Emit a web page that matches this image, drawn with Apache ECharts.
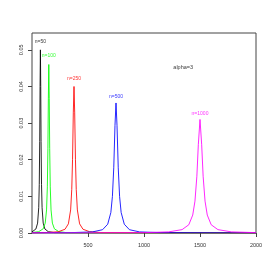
<!DOCTYPE html>
<html>
<head>
<meta charset="utf-8">
<script src="https://cdn.jsdelivr.net/npm/echarts@6/dist/echarts.min.js"></script>
<style>html,body{margin:0;padding:0;background:#fff}#c{width:273px;height:273px}</style>
</head>
<body>
<div id="c"></div>
<script>
// ---- data ----
var blackX = [0, 35, 50, 60, 65, 69, 72, 75, 78, 81, 85, 90, 100, 115, 145, 200, 400, 2000];
var blackY = [0.0003, 0.0011, 0.0027, 0.0069, 0.0132, 0.025, 0.040, 0.050, 0.040, 0.025, 0.0132, 0.0069, 0.0027, 0.0011, 0.00036, 0.0001, 0.00002, 0];

var greenX = [0, 60, 100, 118, 130, 137, 142, 146, 150, 154, 158, 163, 170, 182, 200, 240, 300, 2000];
var greenY = [0.00013, 0.00036, 0.00115, 0.0027, 0.0063, 0.0126, 0.023, 0.0368, 0.046, 0.0368, 0.023, 0.0126, 0.0063, 0.0027, 0.00115, 0.00036, 0.00013, 0];

var redX = [0, 125, 235, 295, 325, 345, 355, 362, 369, 375, 381, 388, 395, 405, 425, 455, 515, 625, 2000];
var redY = [0.00004, 0.00011, 0.00034, 0.00103, 0.0025, 0.0063, 0.0119, 0.020, 0.033, 0.040, 0.033, 0.020, 0.0119, 0.0063, 0.0025, 0.00103, 0.00034, 0.00011, 0];

var blueX = [0, 350, 540, 630, 676, 704, 718, 730, 741, 750, 759, 770, 782, 796, 824, 870, 960, 1150, 2000];
var blueY = [0.00002, 0.0001, 0.0003, 0.0009, 0.0024, 0.0056, 0.0100, 0.0178, 0.0294, 0.0355, 0.0294, 0.0178, 0.0100, 0.0056, 0.0024, 0.0009, 0.0003, 0.0001, 0.00002];

var magX = [0, 1000, 1220, 1340, 1400, 1435, 1455, 1472, 1485, 1500, 1515, 1528, 1545, 1565, 1600, 1660, 1780, 2000];
var magY = [0.00002, 0.0001, 0.00031, 0.00092, 0.00225, 0.0049, 0.0087, 0.0155, 0.0241, 0.031, 0.0241, 0.0155, 0.0087, 0.0049, 0.00225, 0.00092, 0.00031, 0.0001];

var labelNames = ["n=50", "n=100", "n=250", "n=500", "n=1000"];
var labelX = [75, 150, 375, 750, 1500];
var labelY = [0.0523, 0.0484, 0.0421, 0.0372, 0.0325];
var colors = ["#000000", "#00ff00", "#ff0000", "#0000ff", "#ff00ff"];

var noteText = "alpha=3";
var noteX = 1350;
var noteY = 0.0451;

var xTicks = [500, 1000, 1500, 2000];
var yTicks = [0, 0.01, 0.02, 0.03, 0.04, 0.05];

function pairs(xs, ys) { return xs.map(function (x, i) { return [x, ys[i]]; }); }

var curves = [pairs(blackX, blackY), pairs(greenX, greenY), pairs(redX, redY), pairs(blueX, blueY), pairs(magX, magY)];

var series = curves.map(function (d, i) {
  return {
    type: 'line', data: d, showSymbol: false, symbol: 'none', smooth: false,
    lineStyle: { color: colors[i], width: 1, opacity: 0.85 }, z: 2 + i, animation: false
  };
});

series.push({
  type: 'scatter', symbolSize: 0, animation: false, z: 10,
  data: labelNames.map(function (n, i) {
    return { value: [labelX[i], labelY[i]], name: n,
      label: { show: true, position: 'inside', formatter: n, color: colors[i],
        fontSize: 5, fontFamily: 'Liberation Sans, Arial, sans-serif' } };
  })
});
series.push({
  type: 'scatter', symbolSize: 0, animation: false, z: 10,
  data: [{ value: [noteX, noteY], name: noteText,
    label: { show: true, position: 'inside', formatter: noteText, color: '#000',
      fontSize: 5.5, fontFamily: 'Liberation Sans, Arial, sans-serif' } }]
});

var chart = echarts.init(document.getElementById('c'), null, { renderer: 'canvas' });
chart.setOption({
  animation: false,
  backgroundColor: '#ffffff',
  grid: { left: 32, right: 17, top: 33, bottom: 40, show: true, borderColor: '#444', borderWidth: 1, backgroundColor: 'transparent' },
  xAxis: {
    type: 'value', min: 0, max: 2000,
    axisLine: { show: false },
    splitLine: { show: false },
    axisTick: { show: true, inside: false, length: 4, lineStyle: { color: '#444' }, customValues: xTicks },
    axisLabel: { show: true, margin: 9, fontSize: 5.5, color: '#333', fontFamily: 'Liberation Sans, Arial, sans-serif', customValues: xTicks,
      formatter: function (v) { return String(v); } }
  },
  yAxis: {
    type: 'value', min: 0, max: 0.0546,
    axisLine: { show: false },
    splitLine: { show: false },
    axisTick: { show: true, inside: false, length: 4, lineStyle: { color: '#444' }, customValues: yTicks },
    axisLabel: { show: true, rotate: 90, margin: 8, fontSize: 5.5, color: '#333', fontFamily: 'Liberation Sans, Arial, sans-serif', customValues: yTicks,
      formatter: function (v) { return v.toFixed(2); } }
  },
  series: series
});
</script>
</body>
</html>
